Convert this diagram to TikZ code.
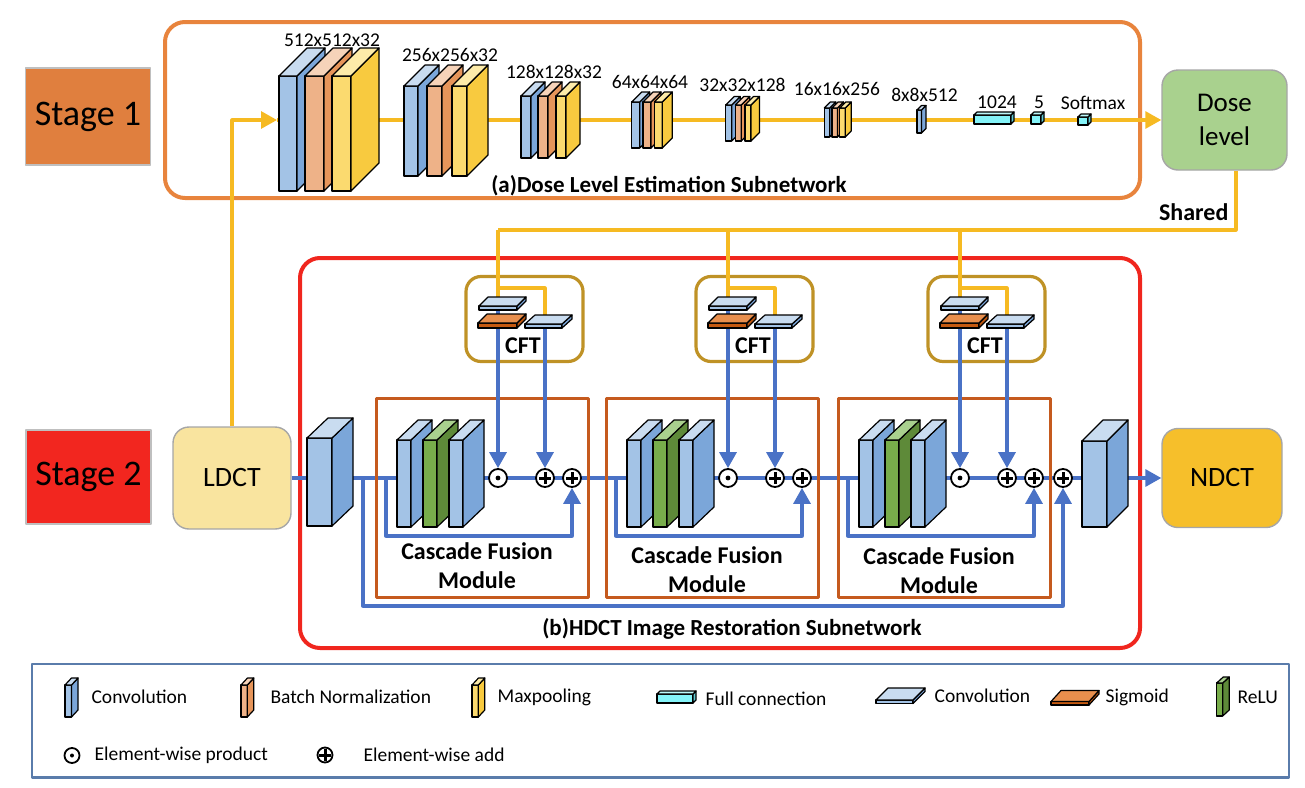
\documentclass[tikz,border=0pt]{standalone}
\usepackage{fontspec}
\setmainfont{Carlito}
\usetikzlibrary{arrows.meta}

\definecolor{convF}{HTML}{A3C3E6}
\definecolor{convS}{HTML}{7BA6D9}
\definecolor{convT}{HTML}{C9DCF0}
\definecolor{bnF}{HTML}{EEB288}
\definecolor{bnS}{HTML}{E6955A}
\definecolor{bnT}{HTML}{F6D3B9}
\definecolor{mpF}{HTML}{FBDA6F}
\definecolor{mpS}{HTML}{F8CA3F}
\definecolor{mpT}{HTML}{FDEBA9}
\definecolor{reluF}{HTML}{78AD4B}
\definecolor{reluS}{HTML}{5E8A39}
\definecolor{reluT}{HTML}{A9D08E}
\definecolor{fcF}{HTML}{84F3F8}
\definecolor{fcS}{HTML}{5FC9D0}
\definecolor{fcT}{HTML}{BDF7F9}
\definecolor{sigF}{HTML}{C55A11}
\definecolor{sigS}{HTML}{B9540F}
\definecolor{sigT}{HTML}{E98F4D}
\definecolor{blueline}{HTML}{4A72C6}
\definecolor{yelline}{HTML}{F6BA22}
\definecolor{netA}{HTML}{E8843D}
\definecolor{netB}{HTML}{F0261E}
\definecolor{cfmline}{HTML}{C55A1E}
\definecolor{cftline}{HTML}{BF9226}
\definecolor{lgdline}{HTML}{5A7CAB}
\definecolor{stageA}{HTML}{E07F3E}
\definecolor{stageB}{HTML}{F2261F}
\definecolor{ldctc}{HTML}{F9E49F}
\definecolor{ndctc}{HTML}{F6BF2B}
\definecolor{dosec}{HTML}{A9D18E}

% front face: left, top, width, height; depth: x, y; colour prefix
\newcommand{\layerbox}[7]{%
  \filldraw[fill=#7F] (#1,#2) rectangle ++(#3,#4);
  \filldraw[fill=#7S] (#1+#3,#2) -- ++(#5,-#6) -- ++(0,#4) -- ++(-#5,#6) -- cycle;
  \filldraw[fill=#7T] (#1,#2) -- ++(#5,-#6) -- ++(#3,0) -- ++(-#5,#6) -- cycle;
}

\begin{document}
\begin{tikzpicture}[x=1pt,y=-1pt,line width=1.2pt,line join=round,>={Triangle[length=16pt,width=17pt]},
  bl/.style={blueline,line width=3.3pt},
  yl/.style={yelline,line width=3.1pt},
  stagebox/.style={draw=black!25,line width=1.2pt,minimum width=125pt,font=\fontsize{36}{40}\selectfont},
  iobox/.style={draw=black!35,line width=1.4pt,rounded corners=16pt,minimum width=120pt,minimum height=100pt,font=\fontsize{28}{34}\selectfont},
  lbl/.style={font=\fontsize{19.5}{20}\selectfont,inner sep=0pt},
  ttl/.style={font=\bfseries\fontsize{23}{24}\selectfont,inner sep=0pt},
  bld/.style={font=\bfseries\fontsize{24}{29}\selectfont,inner sep=0pt,align=center},
  lgd/.style={font=\fontsize{19.5}{20}\selectfont,anchor=west,inner sep=0pt},
  cfm/.style={draw=cfmline,line width=3pt,minimum width=212pt,minimum height=199pt},
  cft/.style={draw=cftline,line width=3.2pt,rounded corners=15pt,minimum width=117pt,minimum height=85pt},
  oprod/.style={circle,draw,fill=white,line width=1.8pt,minimum size=18pt,inner sep=0pt},
  oadd/.style={circle,draw,fill=white,line width=1.8pt,minimum size=18pt,inner sep=0pt,
    path picture={\draw[line width=3pt] ([xshift=-6pt]path picture bounding box.center) -- ([xshift=6pt]path picture bounding box.center)
      ([yshift=-6pt]path picture bounding box.center) -- ([yshift=6pt]path picture bounding box.center);}}]
\useasboundingbox (0,0) rectangle (1305,787);

\node[stagebox,fill=stageA,minimum height=97pt] (st1) at (88,116.5) {Stage 1};
\node[stagebox,fill=stageB,minimum height=94pt] (st2) at (88.5,477) {Stage 2};

\node[draw=netA,line width=4pt,rounded corners=20pt,minimum width=975pt,minimum height=176pt] (net1) at (652.5,110) {};
\node[draw=netB,line width=4pt,rounded corners=20pt,minimum width=840pt,minimum height=390pt] (net2) at (720,453) {};

\node[iobox,fill=ldctc,minimum width=118pt,minimum height=102pt] (ldct) at (232,478) {LDCT};
\node[iobox,fill=ndctc,minimum height=99pt] (ndct) at (1222,478) {NDCT};
\node[iobox,fill=dosec,minimum width=125pt,align=center,font=\fontsize{27}{34}\selectfont] (dose) at (1224.5,120) {Dose\\level};

% stage 1
\coordinate (s1in) at (277,120);
\draw[yl,->] (ldct.north) |- (s1in);
\draw[yl,->] (s1in) -- (dose.west);

\layerbox{279}{76}{18}{115}{28}{28}{conv}
\layerbox{305}{76}{19}{115}{28}{28}{bn}
\layerbox{332}{76}{19}{115}{28}{28}{mp}
\node[lbl] (l1) at (332,40) {512x512x32};

\layerbox{404}{86}{14}{90}{21}{21}{conv}
\layerbox{427}{86}{15}{90}{21}{21}{bn}
\layerbox{452}{86}{15}{90}{21}{21}{mp}
\node[lbl] (l2) at (450,55) {256x256x32};

\layerbox{521}{96}{10}{62}{14}{14}{conv}
\layerbox{538}{96}{10}{62}{14}{14}{bn}
\layerbox{556}{96}{10}{62}{14}{14}{mp}
\node[lbl] (l3) at (554,72) {128x128x32};

\layerbox{631.7}{102}{8}{46}{10}{10}{conv}
\layerbox{643}{102}{8}{46}{10}{10}{bn}
\layerbox{654.3}{102}{8}{46}{10}{10}{mp}
\node[lbl] (l4) at (650,82) {64x64x64};

\layerbox{725.7}{105}{6}{36}{8.5}{8.5}{conv}
\layerbox{735.3}{105}{6}{36}{8.5}{8.5}{bn}
\layerbox{745}{105}{6}{36}{8.5}{8.5}{mp}
\node[lbl] (l5) at (742.5,85) {32x32x128};

\layerbox{824.3}{108}{5.5}{29}{6}{6}{conv}
\layerbox{832}{108}{5.5}{29}{6}{6}{bn}
\layerbox{839.7}{108}{5.5}{29}{6}{6}{mp}
\node[lbl] (l6) at (837,89) {16x16x256};

\layerbox{917}{110}{4.5}{23}{4.5}{4.5}{conv}
\node[lbl] (l7) at (924.5,95) {8x8x512};

\layerbox{974}{115}{37}{9}{3}{3}{fc}
\node[lbl] (l8) at (997,102) {1024};
\layerbox{1031}{115}{10}{9}{3}{3}{fc}
\node[lbl] (l9) at (1039,102) {5};
\layerbox{1078}{117}{10}{8}{3}{3}{fc}
\node[lbl] (l10) at (1093,103) {Softmax};

\node[ttl] (ta) at (669,186) {(a)Dose Level Estimation Subnetwork};

% stage 2
\draw[bl,->] (ldct.east) -- (ndct.west);
\node[oadd] (pf) at (1063,478) {};
\coordinate (g0) at (363,478);
\coordinate (gb) at (1063,606);
\draw[bl,->] (g0) |- (gb) -- (pf);

\foreach \i/\cx/\ty in {1/498/566,2/728/570,3/960/571}{
  \node[cfm] (cfm\i) at (\cx-16,497.5) {};
  \node[cft] (cft\i) at (\cx+26.5,319) {};
  \node[bld] (cfml\i) at (\cx-21,\ty) {Cascade Fusion\\Module};
  \node[bld] (cftl\i) at (\cx+25,346) {CFT};

  \coordinate (sh\i) at (\cx,230);
  \coordinate (yb\i) at (\cx,288);
  \coordinate (ta\i) at (\cx,302);
  \coordinate (tc\i) at (\cx+47,320);
  \coordinate (sk\i) at (\cx-112,478);
  \coordinate (sb\i) at (\cx+74,536);

  \node[oprod] (pm\i) at (\cx,478) {};
  \fill (pm\i) circle (2.4pt);
  \node[oadd] (pa\i) at (\cx+47,478) {};
  \node[oadd] (pb\i) at (\cx+74,478) {};

  \draw[yl] (sh\i) -- (ta\i);
  \draw[yl] (yb\i) -| (tc\i);
  \draw[bl,->] (ta\i) -- (pm\i);
  \draw[bl,->] (tc\i) -- (pa\i);
  \draw[bl,->] (sk\i) |- (sb\i) -- (pb\i);

  \layerbox{\cx-19}{306}{38}{4}{9}{9}{conv}
  \layerbox{\cx-20}{323}{39}{5}{9}{9}{sig}
  \layerbox{\cx+27}{324}{37}{4}{10}{9}{conv}

  \layerbox{\cx-101}{440}{14}{87}{21}{20}{conv}
  \layerbox{\cx-75}{440}{14}{87}{21}{20}{relu}
  \layerbox{\cx-49}{440}{14}{87}{21}{20}{conv}
}

\draw[yl] ([xshift=11.5pt]dose.south) |- (sh1);
\node[bld,anchor=east] (shd) at (1229,212) {Shared};

\layerbox{307}{438}{25}{88}{21}{20}{conv}
\layerbox{1082}{441}{25}{86}{21}{21}{conv}

\node[ttl] (tb) at (732,629) {(b)HDCT Image Restoration Subnetwork};

% legend
\node[draw=lgdline,line width=2.5pt,minimum width=1257pt,minimum height=113.5pt] (lgd) at (660.5,720.75) {};

\layerbox{65}{685}{6.5}{32}{6.5}{7}{conv}
\node[lgd] (k1) at (91,697) {Convolution};
\layerbox{241}{685}{6.3}{32}{6.5}{7}{bn}
\node[lgd] (k2) at (270,697) {Batch Normalization};
\layerbox{472}{685}{6.3}{32}{6.5}{7}{mp}
\node[lgd] (k3) at (497,697) {Maxpooling};
\layerbox{657}{694}{36}{9}{3}{3}{fc}
\node[lgd] (k4) at (705,699) {Full connection};
\layerbox{876}{700}{37}{3.5}{12}{12}{conv}
\node[lgd] (k5) at (934,696) {Convolution};
\layerbox{1051}{701.5}{38}{3.5}{10}{11}{sig}
\node[lgd] (k6) at (1105,697) {Sigmoid};
\layerbox{1216.7}{683}{6}{33}{6.5}{6}{relu}
\node[lgd] (k7) at (1237,697) {ReLU};

\node[oprod,minimum size=15pt] (kp) at (72,755.5) {};
\fill (kp) circle (2pt);
\node[lgd] (k8) at (94,755) {Element-wise product};
\node[oadd,minimum size=15pt] (ka) at (325,755) {};
\node[lgd] (k9) at (363,755) {Element-wise add};

\end{tikzpicture}
\end{document}
